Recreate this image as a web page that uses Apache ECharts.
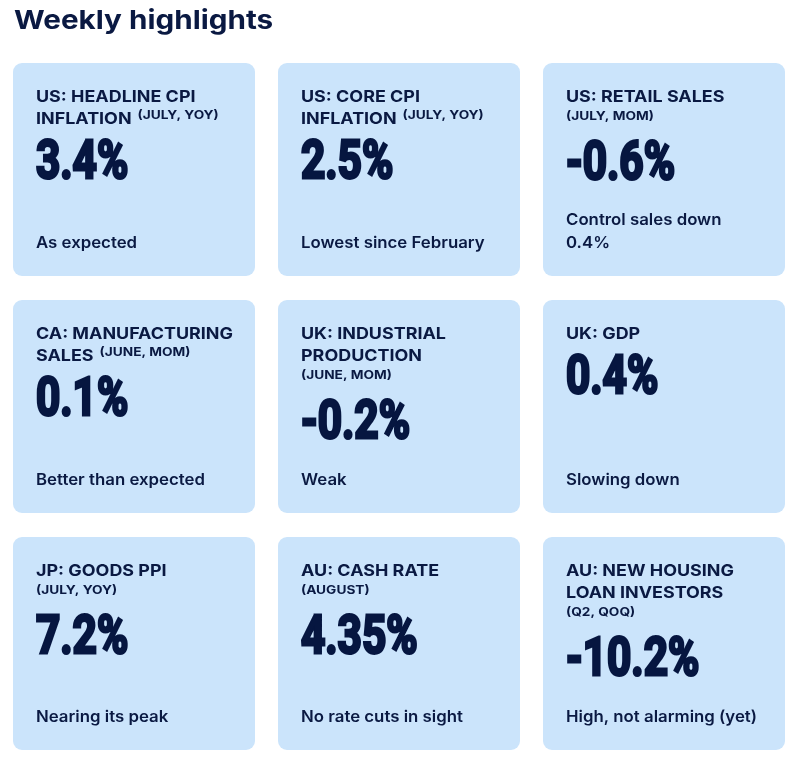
<!DOCTYPE html>
<html>
<head>
<meta charset="utf-8">
<script src="https://cdn.jsdelivr.net/npm/echarts@6/dist/echarts.min.js"></script>
<style>
  html, body { margin: 0; padding: 0; background: #fff; }
  #chart { width: 797px; height: 762px; }
</style>
</head>
<body>
<div id="chart"></div>
<script>
// 每张卡片的内容
const pageTitle = 'Weekly highlights';

const cardTitles = [
  ['US: HEADLINE CPI', 'INFLATION'],
  ['US: CORE CPI', 'INFLATION'],
  ['US: RETAIL SALES'],
  ['CA: MANUFACTURING', 'SALES'],
  ['UK: INDUSTRIAL', 'PRODUCTION'],
  ['UK: GDP'],
  ['JP: GOODS PPI'],
  ['AU: CASH RATE'],
  ['AU: NEW HOUSING', 'LOAN INVESTORS']
];
const cardPeriods = ['(JULY, YOY)', '(JULY, YOY)', '(JULY, MOM)', '(JUNE, MOM)', '(JUNE, MOM)', '', '(JULY, YOY)', '(AUGUST)', '(Q2, QOQ)'];
const cardValues = ['3.4%', '2.5%', '-0.6%', '0.1%', '-0.2%', '0.4%', '7.2%', '4.35%', '-10.2%'];
const cardNotes = [
  'As expected',
  'Lowest since February',
  'Control sales down\n0.4%',
  'Better than expected',
  'Weak',
  'Slowing down',
  'Nearing its peak',
  'No rate cuts in sight',
  'High, not alarming (yet)'
];

const navy = '#0a1942';
const valueNavy = '#061640';
const cardColor = '#cbe4fb';

const titleFont = 'bold 16px Inter';
const titleScale = 1.12;
const periodFont = 'bold 12px Inter';
const periodScale = 1.14;
const valueFont = 'bold 53px Roboto';
const valueScale = 0.8;
const noteFont = '600 16px Inter';
const noteScale = 1.05;

// 量一下文字宽度，决定括号里的说明放在同一行还是换行
const ctx = document.createElement('canvas').getContext('2d');
function textWidth(str, font) {
  ctx.font = font;
  return ctx.measureText(str).width;
}

function text(str, x, y, font, scale, extra) {
  return {
    type: 'text',
    x: x,
    y: y,
    scaleX: scale,
    silent: true,
    style: Object.assign({
      text: str,
      font: font,
      fill: navy,
      align: 'left',
      verticalAlign: 'middle',
      textAlign: 'left',
      textVerticalAlign: 'middle'
    }, extra || {})
  };
}

const elements = [];
elements.push(text(pageTitle, 14, 21, 'bold 26px Inter', 1.14));

cardValues.forEach(function (val, i) {
  const col = i % 3;
  const row = Math.floor(i / 3);
  const left = 13 + col * 265;
  const top = 63 + row * 237;
  const tx = left + 23;
  const inner = 242 - 46;

  elements.push({
    type: 'rect',
    silent: true,
    shape: { x: left, y: top, width: 242, height: 213, r: 9 },
    style: { fill: cardColor }
  });

  const lines = cardTitles[i];
  let cy = top + 34;
  lines.forEach(function (ln, k) {
    cy = top + 34 + 22 * k;
    elements.push(text(ln, tx, cy, titleFont, titleScale));
  });

  const period = cardPeriods[i];
  let ownLine = false;
  if (period) {
    const last = lines[lines.length - 1];
    const w1 = textWidth(last, titleFont) * titleScale;
    const w2 = textWidth(period, periodFont) * periodScale;
    if (w1 + 6 + w2 <= inner) {
      elements.push(text(period, tx + w1 + 6, cy - 3.5, periodFont, periodScale));
    } else {
      ownLine = true;
      cy += 19.5;
      elements.push(text(period, tx, cy, periodFont, periodScale));
    }
  }

  // Roboto 的 middle 基线偏高，往下挪一点
  const vy = cy + (ownLine ? 44 : 40.5) + 5;
  elements.push(text(val, tx, vy, valueFont, valueScale, {
    fill: valueNavy,
    stroke: valueNavy,
    lineWidth: 3
  }));

  elements.push(text(cardNotes[i], tx, top + 180 + 11.5, noteFont, noteScale, {
    verticalAlign: 'bottom',
    textVerticalAlign: 'bottom',
    lineHeight: 23
  }));
});

const chart = echarts.init(document.getElementById('chart'));
chart.setOption({
  backgroundColor: '#ffffff',
  animation: false,
  graphic: { elements: elements }
});
</script>
</body>
</html>
